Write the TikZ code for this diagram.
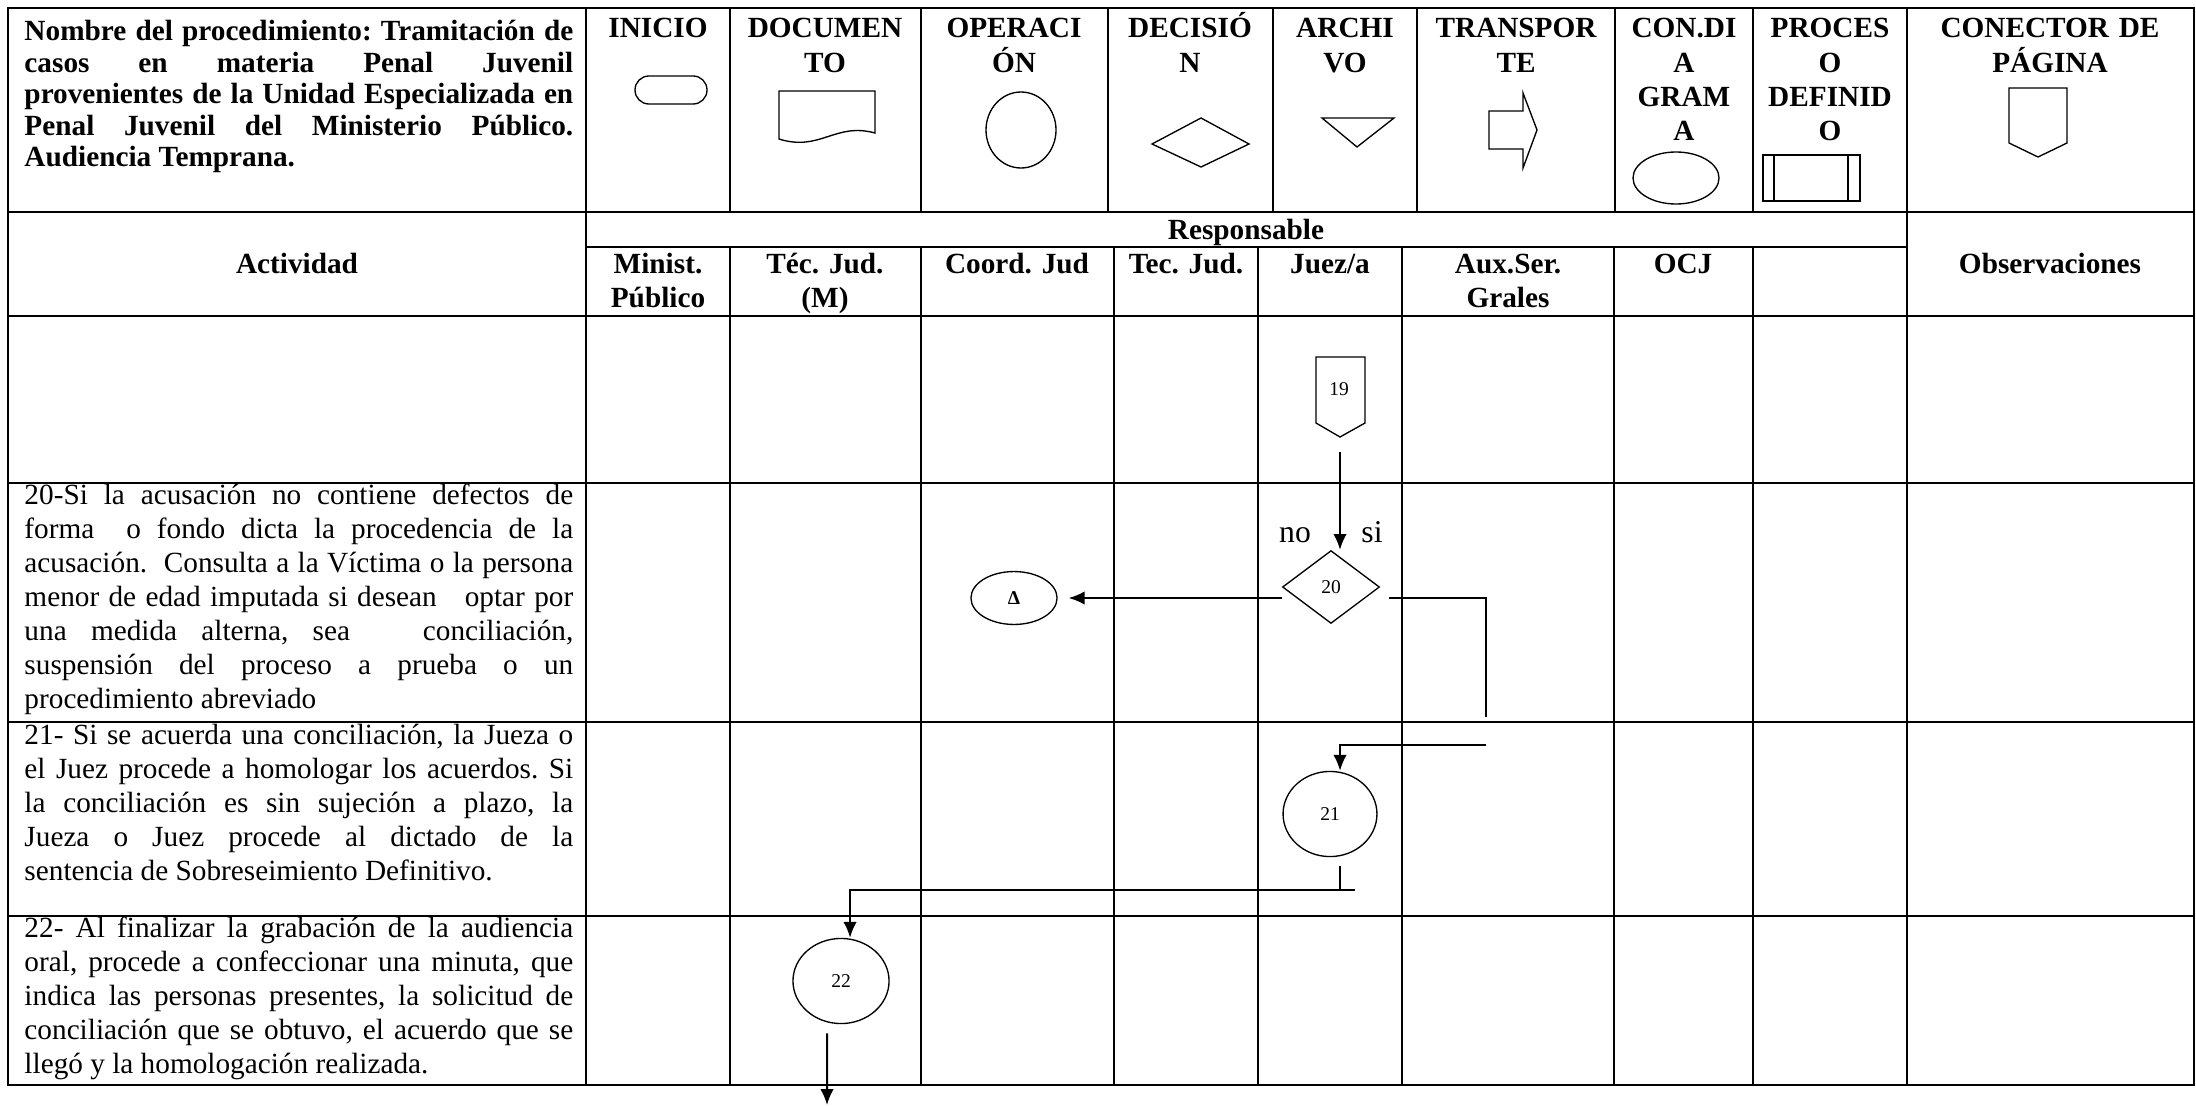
\documentclass[tikz,border=0pt]{standalone}
\usepackage{fontspec}
\setmainfont{Liberation Serif}
\usetikzlibrary{shapes.geometric,arrows.meta,calc}
\frenchspacing
\tikzset{
  tabline/.style={line width=0.75pt},
  symline/.style={line width=0.55pt},
  joinline/.style={line width=0.8pt},
  flowline/.style={joinline, -{Latex[length=6.5pt,width=5.5pt]}},
  hdrtxt/.style={font=\fontsize{12}{14}\selectfont\bfseries, text width=120pt, align=center, inner sep=0pt, anchor=base},
  acttxt/.style={font=\fontsize{12}{14}\selectfont, text width=225pt, align=justify, inner sep=0pt, anchor=base west},
  flownum/.style={font=\fontsize{8}{9}\selectfont, inner sep=0pt},
  flowlbl/.style={font=\fontsize{13}{15}\selectfont, inner sep=0pt, anchor=base},
  opnode/.style={ellipse, draw, symline, flownum}
}

\begin{document}
\begin{tikzpicture}[x=0.41pt, y=-0.41pt]
  \useasboundingbox (0,0) rectangle (2196,1105);

  % table frame and rows
  \draw[tabline] (8,8) rectangle (2194,1085);
  \draw[tabline] (8,212) -- (2194,212);
  \draw[tabline] (586,247) -- (1907,247);
  \draw[tabline] (8,316) -- (2194,316);
  \draw[tabline] (8,483) -- (2194,483);
  \draw[tabline] (8,722) -- (2194,722);
  \draw[tabline] (8,916) -- (2194,916);
  % columns
  \draw[tabline] (586,8) -- (586,1085);
  \draw[tabline] (1907,8) -- (1907,1085);
  \draw[tabline] (730,8) -- (730,212) (921,8) -- (921,212) (1108,8) -- (1108,212)
    (1273,8) -- (1273,212) (1417,8) -- (1417,212) (1615,8) -- (1615,212) (1753,8) -- (1753,212);
  \draw[tabline] (730,247) -- (730,1085) (921,247) -- (921,1085) (1114,247) -- (1114,1085)
    (1258,247) -- (1258,1085) (1402,247) -- (1402,1085) (1614,247) -- (1614,1085) (1753,247) -- (1753,1085);

  % header texts
  \node[acttxt, font=\fontsize{12}{12.9}\selectfont\bfseries] (titulo) at (24,41)
    {Nombre del procedimiento: Tramitación de\linebreak casos en materia Penal Juvenil\linebreak
     provenientes de la Unidad Especializada en\linebreak Penal Juvenil del Ministerio Público.\linebreak
     Audiencia Temprana.};
  \node[hdrtxt] (hInicio) at (658,38) {INICIO};
  \node[hdrtxt] (hDoc) at (825,38) {DOCUMEN\\TO};
  \node[hdrtxt] (hOper) at (1014,38) {OPERACI\\ÓN};
  \node[hdrtxt] (hDecis) at (1190,38) {DECISIÓ\\N};
  \node[hdrtxt] (hArch) at (1345,38) {ARCHI\\VO};
  \node[hdrtxt] (hTransp) at (1516,38) {TRANSPOR\\TE};
  \node[hdrtxt] (hCondia) at (1684,38) {CON.DI\\A\\GRAM\\A};
  \node[hdrtxt] (hProcdef) at (1830,38) {PROCES\\O\\DEFINID\\O};
  \node[hdrtxt] (hConpag) at (2050,38) {CONECTOR DE\\PÁGINA};

  % header symbols
  \draw[symline, rounded corners=5.7pt] (635,76) rectangle (707,104);
  \draw[symline] (779,91) -- (875,91) -- (875,133) .. controls (835,122) and (820,152) .. (779,139) -- cycle;
  \draw[symline] (1021,130) ellipse [x radius=35, y radius=38];
  \draw[symline] (1152,144) -- (1201,118) -- (1249,144) -- (1201,167) -- cycle;
  \draw[symline] (1322,118) -- (1394,118) -- (1357,147) -- cycle;
  \draw[symline] (1489,111) -- (1523,111) -- (1523,93) -- (1537,130) -- (1523,168) -- (1523,149) -- (1489,149) -- cycle;
  \draw[symline] (1676,178) ellipse [x radius=43, y radius=26];
  \draw[symline] (1763,155) rectangle (1860,201);
  \draw[symline] (1774,155) -- (1774,201) (1848,155) -- (1848,201);
  \draw[symline] (2009,88) -- (2067,88) -- (2067,143) -- (2038,157) -- (2009,143) -- cycle;

  % second header row
  \node[hdrtxt] (hActiv) at (297,273) {Actividad};
  \node[hdrtxt] (hResp) at (1246,239) {Responsable};
  \node[hdrtxt] (hObs) at (2050,273) {Observaciones};
  \node[hdrtxt] (rMinist) at (658,273) {Minist.\\Público};
  \node[hdrtxt] (rTecM) at (825,273) {Téc. Jud.\\(M)};
  \node[hdrtxt] (rCoord) at (1017,273) {Coord. Jud};
  \node[hdrtxt] (rTec) at (1186,273) {Tec. Jud.};
  \node[hdrtxt] (rJuez) at (1330,273) {Juez/a};
  \node[hdrtxt] (rAux) at (1508,273) {Aux.Ser.\\Grales};
  \node[hdrtxt] (rOcj) at (1683,273) {OCJ};

  % activities
  \node[acttxt] (act20) at (24,504)
    {20-Si la acusación no contiene defectos de\linebreak forma\ \ o fondo dicta la procedencia de la\linebreak
     acusación.\ \ Consulta a la Víctima o la persona\linebreak menor de edad imputada si desean\ \ \ optar por\linebreak
     una medida alterna, sea\ \ \ conciliación,\linebreak suspensión del proceso a prueba o un\linebreak
     procedimiento abreviado};
  \node[acttxt] (act21) at (24,744)
    {21- Si se acuerda una conciliación, la Jueza o\linebreak el Juez procede a homologar los acuerdos. Si\linebreak
     la conciliación es sin sujeción a plazo, la\linebreak Jueza o Juez procede al dictado de la\linebreak
     sentencia de Sobreseimiento Definitivo.};
  \node[acttxt] (act22) at (24,937)
    {22- Al finalizar la grabación de la audiencia\linebreak oral, procede a confeccionar una minuta, que\linebreak
     indica las personas presentes, la solicitud de\linebreak conciliación que se obtuvo, el acuerdo que se\linebreak
     llegó y la homologación realizada.};

  % flow shapes
  \draw[symline] (1316,357) -- (1365,357) -- (1365,423) -- (1340,437) -- (1316,423) -- cycle;
  \node[flownum] (c19) at (1339,389) {19};
  \node[diamond, draw, symline, flownum, minimum width=39.8pt, minimum height=29.9pt] (d20) at (1331,587) {20};
  \node[opnode, minimum width=35.3pt, minimum height=21.7pt, font=\fontsize{8}{9}\selectfont\bfseries] (opA) at (1014,598) {Δ};
  \node[opnode, minimum width=38.5pt, minimum height=34.9pt] (op21) at (1330,814) {21};
  \node[opnode, minimum width=39.4pt, minimum height=34.9pt] (op22) at (841,981) {22};
  \node[flowlbl] (lblNo) at (1295,542) {no};
  \node[flowlbl] (lblSi) at (1372,542) {si};

  % connectors
  \coordinate (c19out) at (1340,452);
  \coordinate (k20) at (1486,717);
  \coordinate (k21) at (1486,745);
  \coordinate (k22) at (1355,890);
  \coordinate (fin) at (827,1105);
  \draw[flowline] (c19out) -- (c19out |- d20.north);
  \draw[flowline, shorten >=4.5pt] (d20.west |- opA) -- (opA.east);
  \draw[joinline] (d20.east |- opA) ++(9,0) -| (k20);
  \draw[flowline] (k21) -| ([xshift=4.1pt]op21.north);
  \draw[joinline] ([xshift=4.1pt,yshift=-3.7pt]op21.south) -- ++(0,24);
  \draw[flowline] (k22) -| ([xshift=3.7pt]op22.north);
  \draw[flowline] ([xshift=-5.7pt,yshift=-3.7pt]op22.south) -- (fin);
\end{tikzpicture}
\end{document}
